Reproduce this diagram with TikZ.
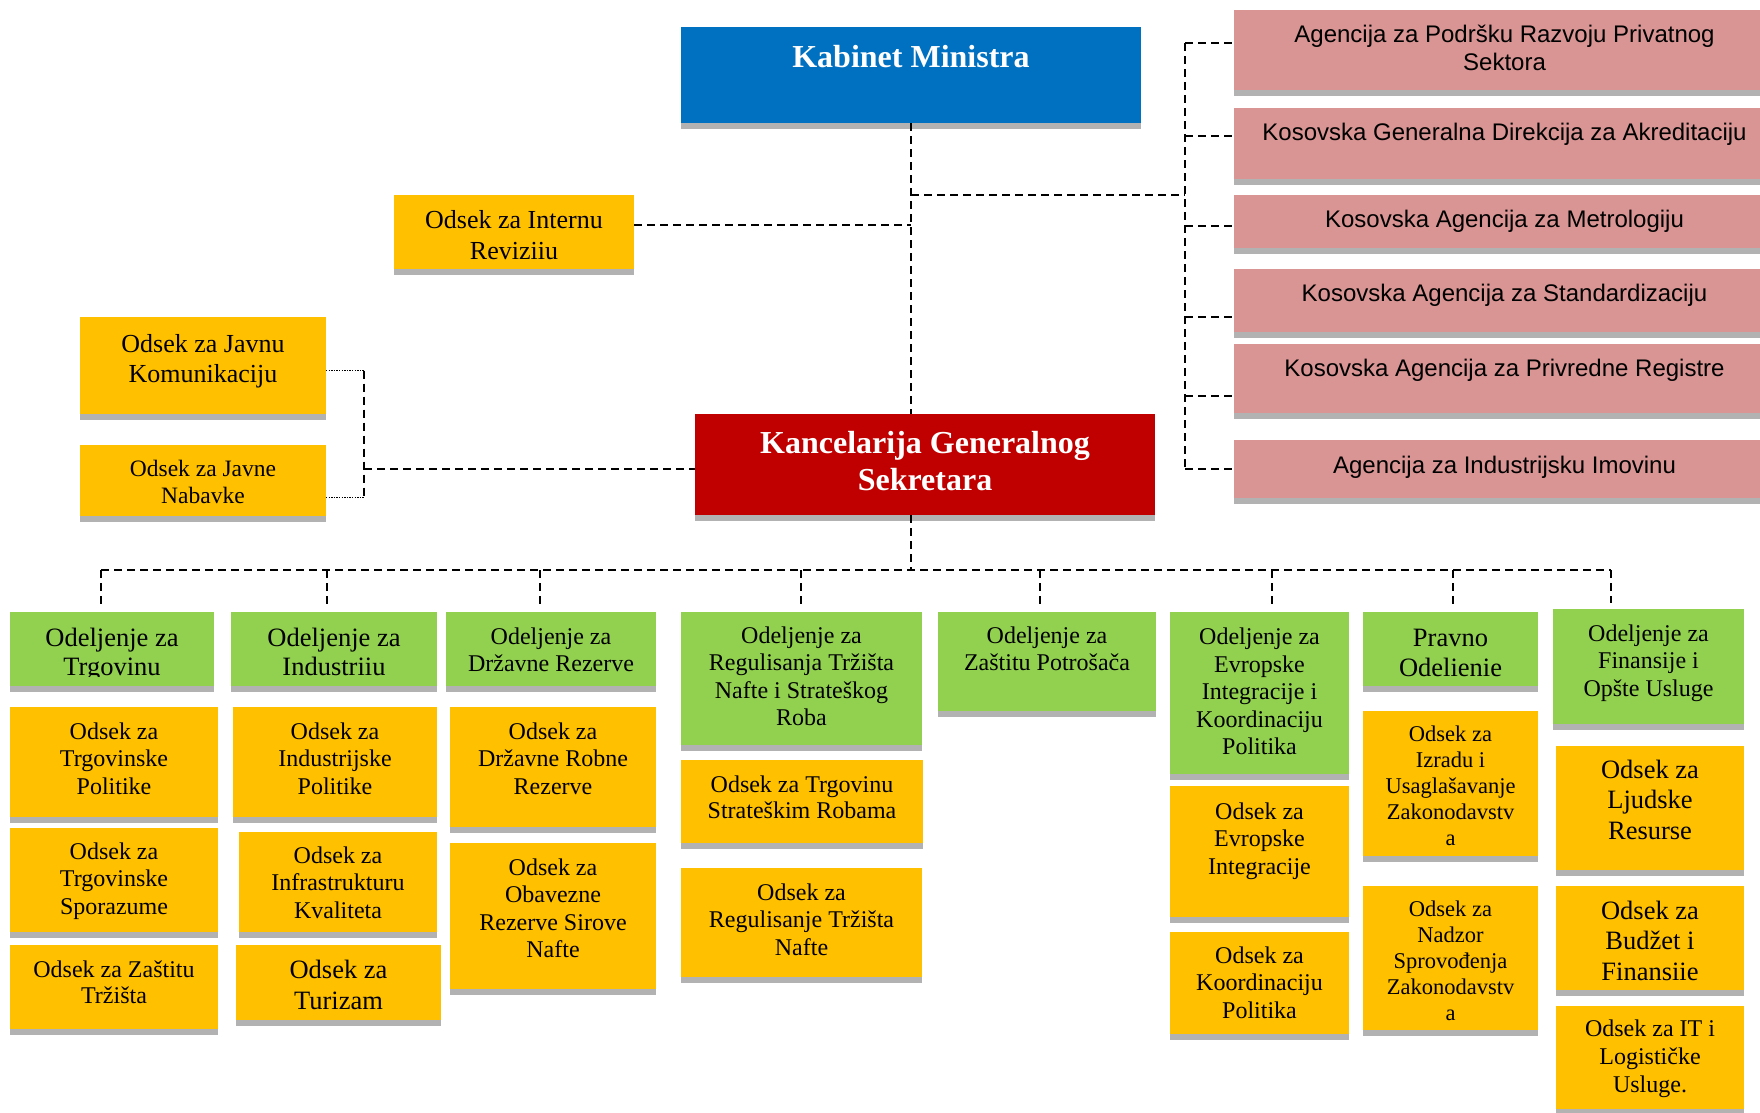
\documentclass[tikz,border=0pt]{standalone}
\usepackage{fontspec}
\setmainfont{Liberation Serif}
\newfontfamily\arialf{Liberation Sans}
\usetikzlibrary{fit}
\definecolor{kblue}{HTML}{0070C0}
\definecolor{kred}{HTML}{C00000}
\definecolor{kgreen}{HTML}{92D050}
\definecolor{korange}{HTML}{FFC000}
\definecolor{kpink}{HTML}{D99594}
\setlength{\tabcolsep}{0pt}
\tikzset{
  stripefill/.style={fill=gray!60},
  dashln/.style={draw=black, line width=2pt, dash pattern=on 8pt off 5pt},
  dotln/.style={draw=black, line width=1.3pt, dash pattern=on 1.3pt off 1.3pt},
  tA/.style={font=\fontsize{24}{27.5}\selectfont},
  tC/.style={font=\fontsize{22.5}{26}\selectfont},
  tpink/.style={font=\arialf\fontsize{24}{28}\selectfont},
  ttitle/.style={font=\bfseries\fontsize{32}{37}\selectfont, text=white},
}
% name, x1, y1, x2, y2, colour
\newcommand\orgbox[6]{%
  \fill[stripefill] (#2,#5) rectangle (#4,{#5+6});
  \node[fit={(#2,#3) (#4,#5)}, inner sep=0pt, outer sep=0pt, fill=#6, draw=none] (#1) {};
}
% name, first baseline, style, text
\newcommand\orgtext[4]{%
  \node[anchor=base, inner sep=0pt, #3] (#1-t) at (#1.center |- 0,#2) {\begin{tabular}[t]{c}#4\end{tabular}};
}
\begin{document}
\begin{tikzpicture}[x=1pt,y=-1pt]
\useasboundingbox (0,0) rectangle (1760,1112);

% ---------- top ----------
\orgbox{kab}{681}{27}{1141}{123}{kblue}
\orgtext{kab}{67}{ttitle}{Kabinet Ministra}

\orgbox{interna}{394}{195}{634}{269}{korange}
\orgtext{interna}{228}{font=\fontsize{26}{31}\selectfont}{Odsek za Internu\\Reviziiu}

\orgbox{javnu}{80}{317}{326}{414}{korange}
\orgtext{javnu}{352}{font=\fontsize{26}{30}\selectfont}{Odsek za Javnu\\Komunikaciju}

\orgbox{nab}{80}{445}{326}{516}{korange}
\orgtext{nab}{476}{font=\fontsize{23.5}{27}\selectfont}{Odsek za Javne\\Nabavke}

\orgbox{kanc}{695}{414}{1155}{515}{kred}
\orgtext{kanc}{453}{ttitle}{Kancelarija Generalnog\\Sekretara}

% ---------- agencies ----------
\orgbox{p1}{1234}{10}{1775}{90}{kpink}
\orgtext{p1}{42}{tpink}{Agencija za Podršku Razvoju Privatnog\\Sektora}
\orgbox{p2}{1234}{108}{1775}{179}{kpink}
\orgtext{p2}{140}{tpink}{Kosovska Generalna Direkcija za Akreditaciju}
\orgbox{p3}{1234}{195}{1775}{248}{kpink}
\orgtext{p3}{227}{tpink}{Kosovska Agencija za Metrologiju}
\orgbox{p4}{1234}{269}{1775}{332}{kpink}
\orgtext{p4}{301}{tpink}{Kosovska Agencija za Standardizaciju}
\orgbox{p5}{1234}{344}{1775}{413}{kpink}
\orgtext{p5}{376}{tpink}{Kosovska Agencija za Privredne Registre}
\orgbox{p6}{1234}{440}{1775}{498}{kpink}
\orgtext{p6}{473}{tpink}{Agencija za Industrijsku Imovinu}

% ---------- column 1 ----------
\orgbox{g1}{10}{612}{214}{686}{kgreen}
\begin{scope}\clip (10,612) rectangle (214,676);
\orgtext{g1}{646}{font=\fontsize{26.5}{29.5}\selectfont}{Odeljenje za\\Trgovinu}
\end{scope}
\orgbox{o11}{10}{707}{218}{817}{korange}
\orgtext{o11}{739}{tA}{Odsek za\\Trgovinske\\Politike}
\orgbox{o12}{10}{828}{218}{932}{korange}
\orgtext{o12}{859}{tA}{Odsek za\\Trgovinske\\Sporazume}
\orgbox{o13}{10}{945}{218}{1029}{korange}
\orgtext{o13}{977}{font=\fontsize{24}{26.5}\selectfont}{Odsek za Zaštitu\\Tržišta}

% ---------- column 2 ----------
\orgbox{g2}{231}{612}{437}{686}{kgreen}
\begin{scope}\clip (231,612) rectangle (437,676);
\orgtext{g2}{646}{font=\fontsize{26.5}{29.5}\selectfont}{Odeljenje za\\Industriiu}
\end{scope}
\orgbox{o21}{233}{707}{437}{817}{korange}
\orgtext{o21}{739}{tA}{Odsek za\\Industrijske\\Politike}
\orgbox{o22}{239}{832}{437}{932}{korange}
\orgtext{o22}{863}{tA}{Odsek za\\Infrastrukturu\\Kvaliteta}
\orgbox{o23}{236}{945}{441}{1020}{korange}
\orgtext{o23}{978}{font=\fontsize{26.5}{31}\selectfont}{Odsek za\\Turizam}

% ---------- column 3 ----------
\orgbox{g3}{446}{612}{656}{686}{kgreen}
\orgtext{g3}{644}{font=\fontsize{24}{27}\selectfont}{Odeljenje za\\Državne Rezerve}
\orgbox{o31}{450}{707}{656}{827}{korange}
\orgtext{o31}{739}{tA}{Odsek za\\Državne Robne\\Rezerve}
\orgbox{o32}{450}{843}{656}{989}{korange}
\orgtext{o32}{875}{tA}{Odsek za\\Obavezne\\Rezerve Sirove\\Nafte}

% ---------- column 4 ----------
\orgbox{g4}{681}{612}{922}{745}{kgreen}
\orgtext{g4}{643}{tA}{Odeljenje za\\Regulisanja Tržišta\\Nafte i Strateškog\\Roba}
\orgbox{o41}{681}{760}{923}{843}{korange}
\orgtext{o41}{792}{font=\fontsize{24}{26.5}\selectfont}{Odsek za Trgovinu\\Strateškim Robama}
\orgbox{o42}{681}{868}{922}{977}{korange}
\orgtext{o42}{900}{tA}{Odsek za\\Regulisanje Tržišta\\Nafte}

% ---------- column 5 ----------
\orgbox{g5}{938}{612}{1156}{711}{kgreen}
\orgtext{g5}{643}{tA}{Odeljenje za\\Zaštitu Potrošača}

% ---------- column 6 ----------
\orgbox{g6}{1170}{612}{1349}{774}{kgreen}
\orgtext{g6}{644.5}{tA}{Odeljenje za\\Evropske\\Integracije i\\Koordinaciju\\Politika}
\orgbox{o61}{1170}{786}{1349}{917}{korange}
\orgtext{o61}{819}{tA}{Odsek za\\Evropske\\Integracije}
\orgbox{o62}{1170}{932}{1349}{1034}{korange}
\orgtext{o62}{963}{tA}{Odsek za\\Koordinaciju\\Politika}

% ---------- column 7 ----------
\orgbox{g7}{1363}{612}{1538}{686}{kgreen}
\begin{scope}\clip (1363,612) rectangle (1538,677);
\orgtext{g7}{646}{font=\fontsize{26.5}{30}\selectfont}{Pravno\\Odelienie}
\end{scope}
\orgbox{o71}{1363}{711}{1538}{856}{korange}
\orgtext{o71}{741}{tC}{Odsek za\\Izradu i\\Usaglašavanje\\Zakonodavstv\\a}
\orgbox{o72}{1363}{886}{1538}{1030}{korange}
\orgtext{o72}{916}{tC}{Odsek za\\Nadzor\\Sprovođenja\\Zakonodavstv\\a}

% ---------- column 8 ----------
\orgbox{g8}{1553}{609}{1744}{724}{kgreen}
\orgtext{g8}{641}{tA}{Odeljenje za\\Finansije i\\Opšte Usluge}
\orgbox{o81}{1556}{746}{1744}{870}{korange}
\orgtext{o81}{778}{font=\fontsize{26.5}{30.5}\selectfont}{Odsek za\\Ljudske\\Resurse}
\orgbox{o82}{1556}{886}{1744}{990}{korange}
\orgtext{o82}{919}{font=\fontsize{26.5}{30.5}\selectfont}{Odsek za\\Budžet i\\Finansiie}
\orgbox{o83}{1556}{1006}{1744}{1109}{korange}
\orgtext{o83}{1036}{font=\fontsize{24}{28}\selectfont}{Odsek za IT i\\Logističke\\Usluge.}

% ---------- connectors ----------
% central spine
\draw[dashln] (kab.south) -- (kab.south |- kanc.north);
% internal audit
\coordinate (io) at ([yshift=7pt]interna.east);
\draw[dashln] (io) -- (io -| kab.south);
% agencies bus
\coordinate (rb) at (1185,195);
\draw[dashln] (kab.south |- rb) -- (rb);
\coordinate (s1) at (1185,43);
\coordinate (s2) at (1185,136);
\coordinate (s3) at (1185,226);
\coordinate (s4) at (1185,317);
\coordinate (s5) at (1185,396);
\coordinate (s6) at (1185,469);
\draw[dashln] (s1) -- (s6);
\foreach \i in {1,...,6} { \draw[dashln] (s\i) -- (s\i -| p\i.west); }
% left side: public communication and procurement
\coordinate (lj) at (364,469);
\coordinate (jo) at ([yshift=-5pt]javnu.east);
\coordinate (no) at ([yshift=-17pt]nab.east);
\draw[dotln] (jo) -- (jo -| lj);
\draw[dotln] (no) -- (no -| lj);
\draw[dashln] (jo -| lj) -- (no -| lj);
\draw[dashln] (lj) -- (lj -| kanc.west);
% departments bus
\coordinate (d1) at (101,570);
\coordinate (d2) at (327,570);
\coordinate (d3) at (540,570);
\coordinate (d4) at (801,570);
\coordinate (d5) at (1040,570);
\coordinate (d6) at (1272,570);
\coordinate (d7) at (1453,570);
\coordinate (d8) at (1611,570);
\draw[dashln] (kab.south |- kanc.south) -- (kab.south |- d1);
\draw[dashln] (d1) -- (d8);
\foreach \i in {1,...,8} { \draw[dashln, shorten >=6pt] (d\i) -- (d\i |- g\i.north); }
\end{tikzpicture}
\end{document}
